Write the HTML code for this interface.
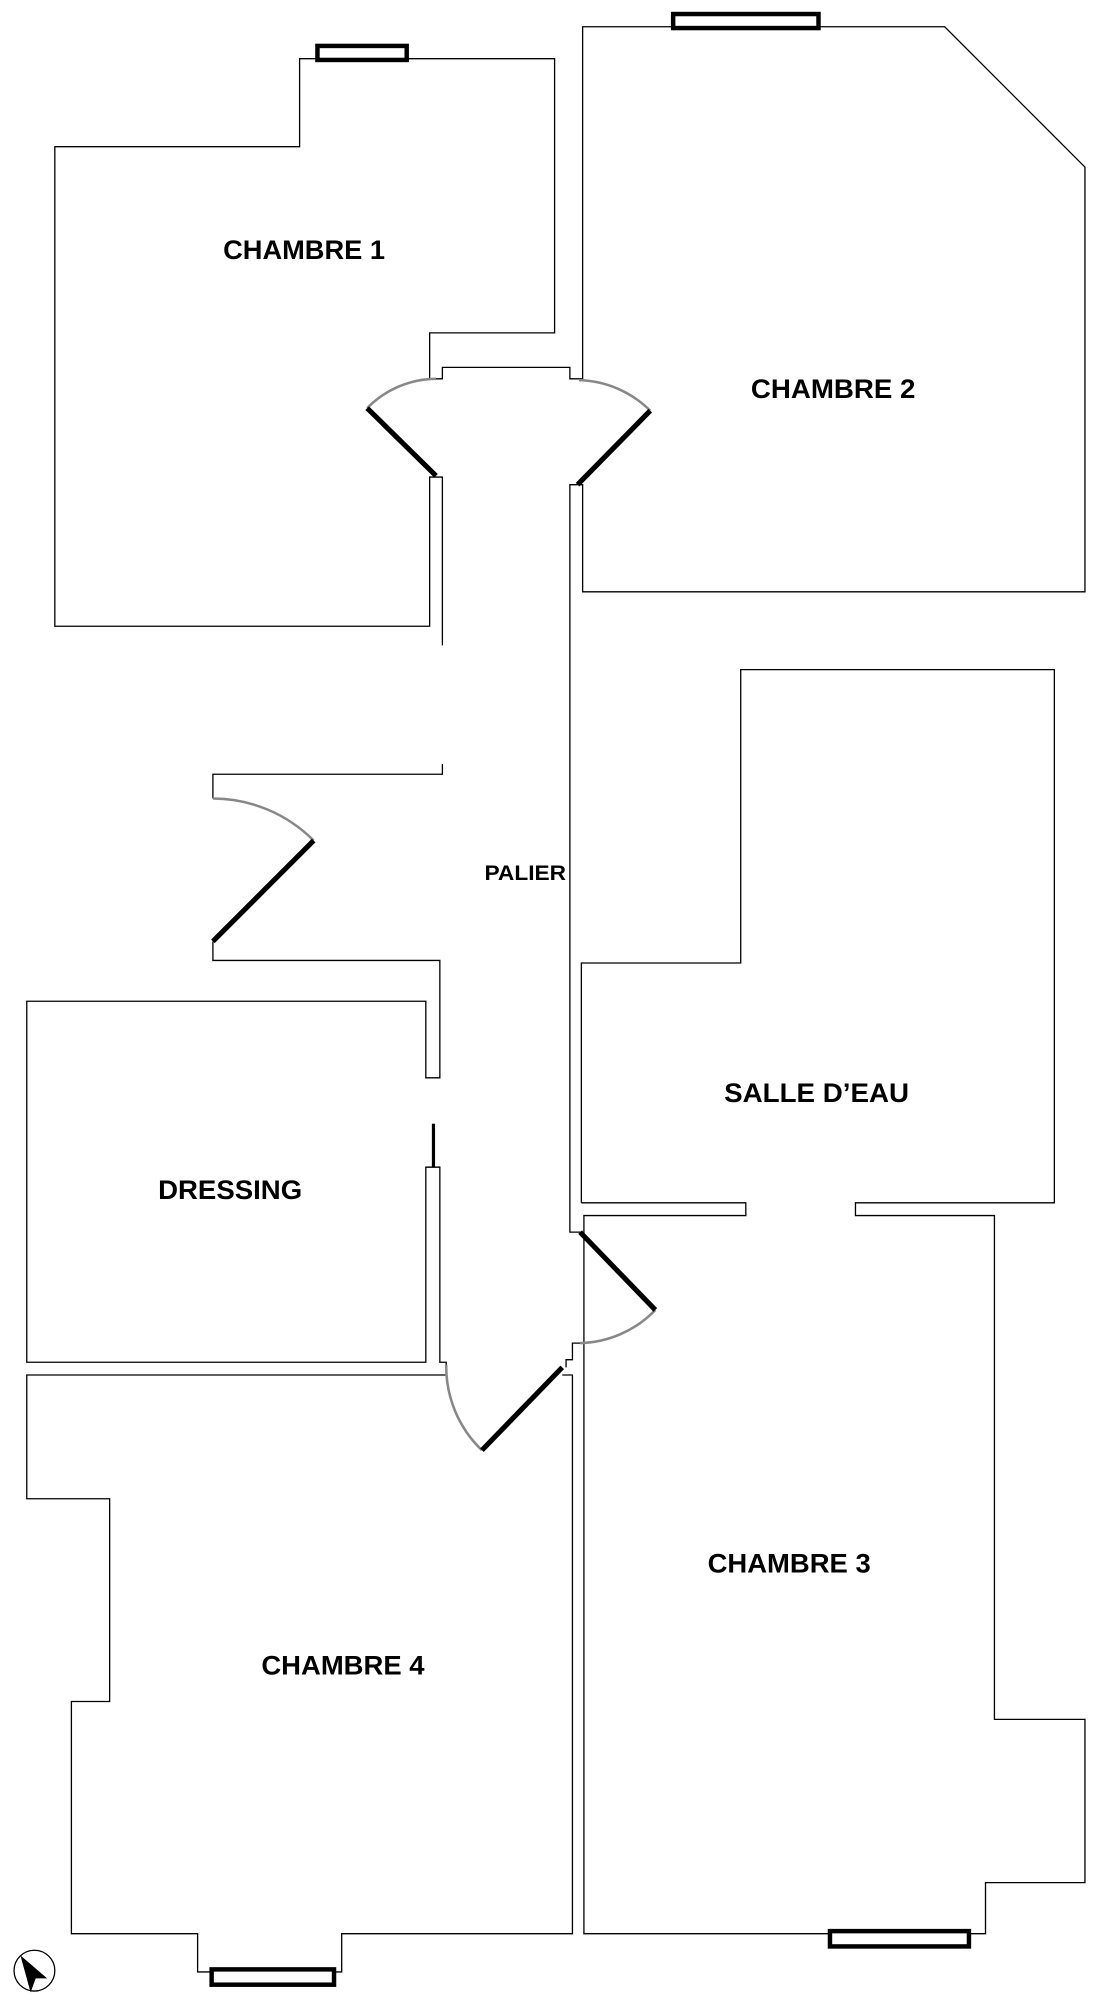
<!DOCTYPE html>
<html><head><meta charset="utf-8"><style>html,body{margin:0;padding:0;background:#fff}svg{display:block}</style></head>
<body>
<svg width="1113" height="2000" viewBox="0 0 873 1568" preserveAspectRatio="none" xmlns="http://www.w3.org/2000/svg">
<g fill="none" stroke="#000" stroke-width="1.3" vector-effect="non-scaling-stroke">
<path vector-effect="non-scaling-stroke" d="M337,297 V261 H435 V46 H319 M248,46 H235 V115 H43 V491 H337 V374 H347 V506"/>
<path vector-effect="non-scaling-stroke" d="M337,297 H347 V288 H447 V297 H457 V21 H528 M642,21 H741 L851,131 V464 H457 V380 H447 V966 H457"/>
<path vector-effect="non-scaling-stroke" d="M347,599 V607 H167 V626 M167,738 V753 H345 V845 H334 V785 H21 V1068 H334 V915 H345 V1068 H350 V1078"/>
<path vector-effect="non-scaling-stroke" d="M350,1078 H21 V1175 H86 V1334 H56 V1516 H155 V1546 H166 M262,1546 H268 V1516 H449 V1078 H441"/>
<path vector-effect="non-scaling-stroke" d="M457,1053 H449 V1066 H444 V1072"/>
<path vector-effect="non-scaling-stroke" d="M456,943 V755 H581 V525 H827 V943 H671 V953 H780 V1348 H851 V1476 H773 V1516 H760 M651,1516 H458 V953 H585 V943 H456"/>
<path vector-effect="non-scaling-stroke" d="M334,915 H345" />
</g>
<line x1="340" y1="881" x2="340" y2="915" stroke="#000" stroke-width="2.5"/>
<g fill="#fff" stroke="#000" stroke-width="3.5">
<rect x="249" y="36" width="70" height="11"/>
<rect x="528" y="11" width="114" height="11"/>
<rect x="166" y="1544" width="96" height="12"/>
<rect x="651" y="1514" width="109" height="12"/>
</g>
<g fill="none" stroke="#888" stroke-width="2">
<path d="M342,297 A76,76 0 0 0 288,320"/>
<path d="M454,298 A82,82 0 0 1 510,322"/>
<path d="M167,626 A112,112 0 0 1 246,659"/>
<path d="M514,1027 A85,85 0 0 1 455,1053"/>
<path d="M350,1070 A91,91 0 0 0 378,1137"/>
</g>
<g stroke="#000" stroke-width="4" stroke-linecap="butt">
<line x1="288" y1="320" x2="342" y2="373"/>
<line x1="510" y1="322" x2="453" y2="380"/>
<line x1="246" y1="659" x2="167" y2="738"/>
<line x1="455" y1="966" x2="514" y2="1027"/>
<line x1="441" y1="1072" x2="378" y2="1137"/>
</g>
<circle cx="27" cy="1545" r="16" fill="#fff" stroke="#000" stroke-width="1"/>
<path d="M16,1533 L37,1551 L28,1551 L24,1562 Z" fill="#000"/>
<g font-family="'Liberation Sans', Arial, sans-serif" font-weight="bold" fill="#000">
<text x="175" y="203" font-size="21" textLength="127" lengthAdjust="spacingAndGlyphs">CHAMBRE 1</text>
<text x="589" y="312" font-size="21" textLength="129" lengthAdjust="spacingAndGlyphs">CHAMBRE 2</text>
<text x="380" y="690" font-size="17" textLength="64" lengthAdjust="spacingAndGlyphs">PALIER</text>
<text x="568" y="864" font-size="21" textLength="145" lengthAdjust="spacingAndGlyphs">SALLE D’EAU</text>
<text x="124" y="940" font-size="21" textLength="113" lengthAdjust="spacingAndGlyphs">DRESSING</text>
<text x="555" y="1233" font-size="21" textLength="128" lengthAdjust="spacingAndGlyphs">CHAMBRE 3</text>
<text x="205" y="1313" font-size="21" textLength="128" lengthAdjust="spacingAndGlyphs">CHAMBRE 4</text>
</g>
</svg>
</body></html>
